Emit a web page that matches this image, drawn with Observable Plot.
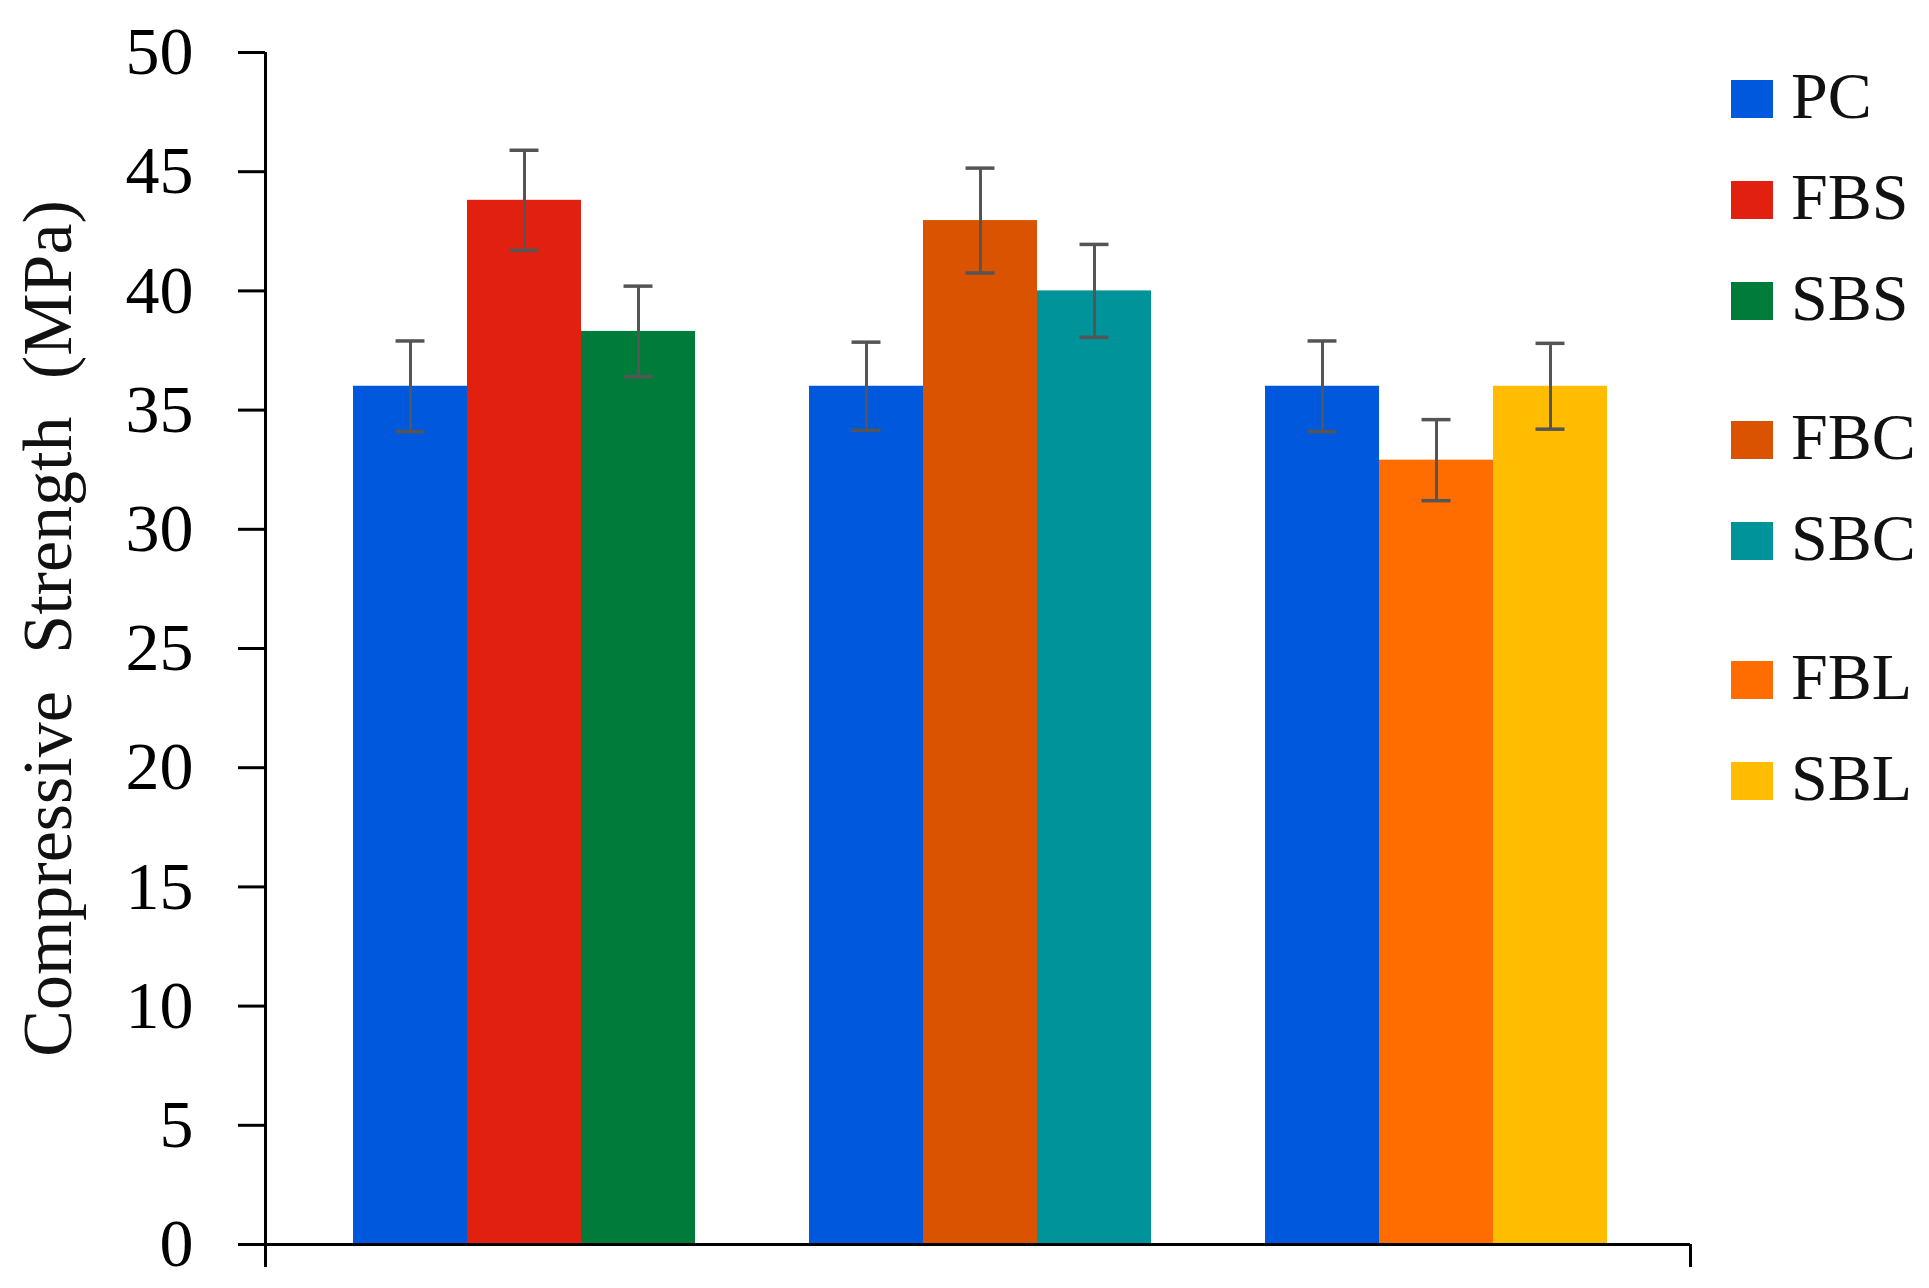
<!DOCTYPE html>
<html>
<head>
<meta charset="utf-8">
<script src="https://cdn.jsdelivr.net/npm/d3@7"></script>
<script src="https://cdn.jsdelivr.net/npm/@observablehq/plot@0.6"></script>
<style>
  html, body { margin: 0; padding: 0; background: #fff; }
  #wrap { position: relative; width: 1929px; height: 1288px; }
  #legend { position: absolute; left: 1731px; top: 48px; font-family: "Liberation Serif", serif; color: #111; }
  .lg-row { height: 101px; display: flex; align-items: center; }
  .lg-sw { width: 42px; height: 38px; margin-right: 18px; flex: none; }
  .lg-tx { display: inline-block; font-size: 66px; line-height: 1; position: relative; top: -3px; }
  .lg-gap { margin-top: 38px; }
  g[aria-label="text"] text { word-spacing: 20px; }
</style>
</head>
<body>
<div id="wrap"><div id="legend"></div></div>
<script>
// ---- data ----
const groupMembers = [["PC", "FBS", "SBS"], ["PC", "FBC", "SBC"], ["PC", "FBL", "SBL"]];
const strength     = [[36.0, 43.8, 38.3], [36.0, 42.95, 40.0], [36.0, 32.9, 36.0]];
const errorBars    = [[1.9, 2.1, 1.9], [1.85, 2.2, 1.95], [1.9, 1.7, 1.8]];
const seriesNames  = ["PC", "FBS", "SBS", "FBC", "SBC", "FBL", "SBL"];
const seriesColors = ["#0059DD", "#E2200F", "#017B3A", "#DA5300", "#00939A", "#FF6D00", "#FFBC00"];
const yTicks = [0, 5, 10, 15, 20, 25, 30, 35, 40, 45, 50];
const yLabel = "Compressive Strength (MPa)";

// ---- table for the library ----
const rows = groupMembers.flatMap((members, g) =>
  members.map((name, i) => ({
    series: name,
    slot: g * (members.length + 1) + i,
    value: strength[g][i],
    err: errorBars[g][i]
  }))
);

const xMin = -0.772, xMax = 11.728;
const capHalf = 0.127;

const chart = Plot.plot({
  width: 1929,
  height: 1288,
  marginLeft: 265,
  marginRight: 239,
  marginTop: 52,
  marginBottom: 44,
  style: { background: "white", color: "black", fontFamily: "Liberation Serif, serif", fontSize: "68px" },
  x: { type: "linear", domain: [xMin, xMax], axis: null },
  y: { domain: [0, 50], axis: null },
  color: { domain: seriesNames, range: seriesColors },
  marks: [
    Plot.rect(rows, { x1: "slot", x2: d => d.slot + 1, y1: 0, y2: "value", fill: "series" }),
    Plot.ruleY([0], { stroke: "black", strokeWidth: 3 }),
    Plot.ruleX([xMin], { y1: 0, y2: 50, stroke: "black", strokeWidth: 3 }),
    Plot.axisY({ ticks: yTicks, tickSize: 27, tickPadding: 45, strokeWidth: 3, fontSize: 68, fontFamily: "Liberation Serif, serif", label: null }),
    Plot.axisX({ ticks: [xMin, xMax], tickSize: 23, tickFormat: () => "", strokeWidth: 3, label: null }),
    Plot.ruleX(rows, { x: d => d.slot + 0.5, y1: d => d.value - d.err, y2: d => d.value + d.err, stroke: "#555", strokeWidth: 3 }),
    Plot.ruleY(rows, { y: d => d.value + d.err, x1: d => d.slot + 0.5 - capHalf, x2: d => d.slot + 0.5 + capHalf, stroke: "#555", strokeWidth: 3.5 }),
    Plot.ruleY(rows, { y: d => d.value - d.err, x1: d => d.slot + 0.5 - capHalf, x2: d => d.slot + 0.5 + capHalf, stroke: "#555", strokeWidth: 3.5 }),
    Plot.text([yLabel], { text: d => d, frameAnchor: "left", dx: -217, dy: -20, rotate: -90, textAnchor: "middle", lineAnchor: "middle", fontSize: 70, fontFamily: "Liberation Serif, serif", fill: "#111" })
  ]
});
document.getElementById("wrap").prepend(chart);
chart.style.position = "absolute";
chart.style.left = "0px";
chart.style.top = "0px";

// ---- legend ----
const legend = document.getElementById("legend");
const seen = new Set();
groupMembers.forEach((members, g) => {
  let first = true;
  members.forEach(name => {
    if (seen.has(name)) return;
    seen.add(name);
    const row = document.createElement("div");
    row.className = "lg-row" + (first && g > 0 ? " lg-gap" : "");
    first = false;
    const sw = document.createElement("div");
    sw.className = "lg-sw";
    sw.style.background = seriesColors[seriesNames.indexOf(name)];
    const tx = document.createElement("span");
    tx.className = "lg-tx";
    tx.textContent = name;
    row.append(sw, tx);
    legend.append(row);
  });
});
</script>
</body>
</html>
